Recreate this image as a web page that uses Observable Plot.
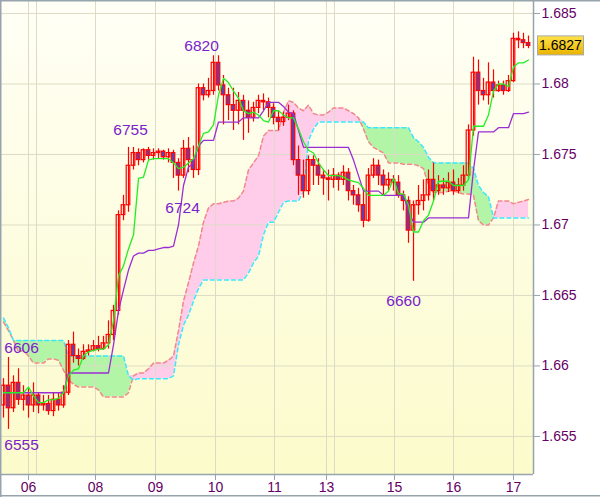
<!DOCTYPE html>
<html><head><meta charset="utf-8">
<script src="https://cdn.jsdelivr.net/npm/d3@7"></script>
<script src="https://cdn.jsdelivr.net/npm/@observablehq/plot@0.6"></script>
<style>body{margin:0;background:#fff;} svg{display:block}</style>
</head><body><div id="chart"></div>
<script>
// ---- data (hourly-ish bars, one entry per plotted candle) ----
const open = [1.6572,1.6586,1.6570,1.6588,1.6576,1.6579,1.6572,1.6579,1.6572,1.6573,
 1.6568,1.6576,1.6572,1.6581,1.6615,1.6607,1.6605,1.6610,1.6611,1.6614,
 1.6612,1.6616,1.6622,1.6639,1.6707,1.6714,1.6742,1.6751,1.6746,1.6753,
 1.6749,1.6751,1.6752,1.6748,1.6751,1.6744,1.6735,1.6754,1.6746,1.6739,
 1.6797,1.6792,1.6795,1.6815,1.6799,1.6792,1.6785,1.6781,1.6788,1.6781,
 1.6776,1.6783,1.6788,1.6787,1.6783,1.6776,1.6773,1.6776,1.6779,1.6746,
 1.6735,1.6724,1.6746,1.6742,1.6735,1.6733,1.6732,1.6735,1.6732,1.6737,
 1.6724,1.6721,1.6714,1.6703,1.6735,1.6742,1.6735,1.6728,1.6732,1.6730,
 1.6721,1.6717,1.6696,1.6714,1.6717,1.6721,1.6732,1.6724,1.6728,1.6726,
 1.6730,1.6724,1.6728,1.6735,1.6767,1.6808,1.6795,1.6792,1.6801,1.6795,
 1.6799,1.6795,1.6802,1.6832,1.6831,1.6829];
const close = [1.6586,1.6570,1.6588,1.6576,1.6579,1.6572,1.6579,1.6572,1.6573,1.6568,
 1.6576,1.6572,1.6581,1.6615,1.6607,1.6605,1.6610,1.6611,1.6614,1.6612,
 1.6616,1.6622,1.6639,1.6707,1.6714,1.6742,1.6751,1.6746,1.6753,1.6749,
 1.6751,1.6752,1.6748,1.6751,1.6744,1.6735,1.6754,1.6746,1.6739,1.6797,
 1.6792,1.6795,1.6815,1.6799,1.6792,1.6785,1.6781,1.6788,1.6781,1.6776,
 1.6783,1.6788,1.6787,1.6783,1.6776,1.6773,1.6776,1.6779,1.6746,1.6735,
 1.6724,1.6746,1.6742,1.6735,1.6733,1.6732,1.6735,1.6732,1.6737,1.6724,
 1.6721,1.6714,1.6703,1.6735,1.6742,1.6735,1.6728,1.6732,1.6730,1.6721,
 1.6717,1.6696,1.6714,1.6717,1.6721,1.6732,1.6724,1.6728,1.6726,1.6730,
 1.6724,1.6728,1.6735,1.6767,1.6808,1.6795,1.6792,1.6801,1.6795,1.6799,
 1.6795,1.6802,1.6832,1.6831,1.6829,1.6827];
const high = [1.6591,1.6606,1.6593,1.6598,1.6586,1.6584,1.6588,1.6581,1.6579,1.6579,
 1.6581,1.6581,1.6586,1.6618,1.6624,1.6612,1.6615,1.6615,1.6618,1.6621,
 1.6621,1.6632,1.6643,1.6710,1.6721,1.6755,1.6755,1.6754,1.6754,1.6755,
 1.6754,1.6754,1.6753,1.6754,1.6753,1.6747,1.6760,1.6762,1.6756,1.6800,
 1.6800,1.6804,1.6820,1.6820,1.6806,1.6797,1.6797,1.6794,1.6792,1.6788,
 1.6787,1.6792,1.6793,1.6790,1.6786,1.6781,1.6780,1.6785,1.6781,1.6756,
 1.6746,1.6749,1.6749,1.6747,1.6739,1.6739,1.6740,1.6737,1.6742,1.6740,
 1.6728,1.6726,1.6724,1.6740,1.6747,1.6746,1.6739,1.6737,1.6735,1.6735,
 1.6724,1.6720,1.6717,1.6728,1.6732,1.6739,1.6744,1.6735,1.6733,1.6737,
 1.6739,1.6733,1.6742,1.6771,1.6819,1.6817,1.6804,1.6815,1.6810,1.6802,
 1.6802,1.6806,1.6836,1.6837,1.6836,1.6834];
const low = [1.6563,1.6555,1.6567,1.6572,1.6568,1.6563,1.6567,1.6566,1.6568,1.6565,
 1.6564,1.6568,1.6570,1.6579,1.6602,1.6600,1.6604,1.6607,1.6610,1.6610,
 1.6611,1.6612,1.6618,1.6636,1.6703,1.6709,1.6739,1.6742,1.6744,1.6746,
 1.6746,1.6747,1.6746,1.6744,1.6733,1.6724,1.6733,1.6737,1.6733,1.6735,
 1.6788,1.6790,1.6792,1.6795,1.6771,1.6774,1.6767,1.6771,1.6760,1.6765,
 1.6773,1.6779,1.6781,1.6776,1.6771,1.6767,1.6770,1.6774,1.6742,1.6721,
 1.6719,1.6721,1.6728,1.6728,1.6721,1.6717,1.6726,1.6724,1.6728,1.6717,
 1.6714,1.6709,1.6698,1.6702,1.6733,1.6728,1.6721,1.6724,1.6724,1.6719,
 1.6710,1.6687,1.6660,1.6707,1.6710,1.6717,1.6717,1.6721,1.6721,1.6723,
 1.6721,1.6722,1.6724,1.6732,1.6763,1.6785,1.6788,1.6785,1.6790,1.6794,
 1.6792,1.6794,1.6801,1.6825,1.6825,1.6825];
// Tenkan-sen (green)
const tenkan = [1.6581,1.6581,1.6581,1.6581,1.6581,1.6585,1.6579,1.6574,1.6574,1.6576,
 1.6576,1.6577,1.6581,1.6593,1.6597,1.6598,1.6607,1.6610,1.6611,1.6612,
 1.6612,1.6615,1.6632,1.6664,1.6671,1.6683,1.6693,1.6733,1.6734,1.6746,
 1.6747,1.6747,1.6747,1.6747,1.6744,1.6740,1.6741,1.6744,1.6747,1.6756,
 1.6765,1.6766,1.6771,1.6792,1.6804,1.6801,1.6795,1.6790,1.6781,1.6779,
 1.6780,1.6778,1.6774,1.6773,1.6781,1.6781,1.6778,1.6776,1.6776,1.6768,
 1.6759,1.6753,1.6751,1.6744,1.6739,1.6735,1.6735,1.6735,1.6734,1.6732,
 1.6731,1.6730,1.6726,1.6721,1.6721,1.6721,1.6721,1.6724,1.6733,1.6722,
 1.6722,1.6714,1.6695,1.6695,1.6703,1.6707,1.6717,1.6731,1.6731,1.6731,
 1.6728,1.6728,1.6728,1.6732,1.6770,1.6770,1.6770,1.6778,1.6795,1.6800,
 1.6800,1.6798,1.6812,1.6815,1.6815,1.6817];
// Kijun-sen (purple)
const kijun = [1.6581,1.6581,1.6581,1.6581,1.6581,1.6581,1.6581,1.6581,1.6581,1.6581,
 1.6581,1.6581,1.6581,1.6595,1.6595,1.6595,1.6595,1.6595,1.6595,1.6595,
 1.6595,1.6595,1.6615,1.6639,1.6654,1.6668,1.6678,1.6680,1.6680,1.6682,
 1.6682,1.6683,1.6684,1.6684,1.6685,1.6700,1.6728,1.6741,1.6744,1.6756,
 1.6760,1.6760,1.6760,1.6773,1.6773,1.6773,1.6773,1.6773,1.6776,1.6776,
 1.6776,1.6776,1.6781,1.6787,1.6787,1.6787,1.6784,1.6780,1.6779,1.6767,
 1.6755,1.6755,1.6755,1.6755,1.6755,1.6755,1.6755,1.6755,1.6755,1.6755,
 1.6746,1.6735,1.6724,1.6724,1.6724,1.6724,1.6721,1.6721,1.6721,1.6721,
 1.6721,1.6710,1.6702,1.6702,1.6702,1.6705,1.6705,1.6705,1.6705,1.6705,
 1.6705,1.6705,1.6705,1.6705,1.6739,1.6766,1.6766,1.6766,1.6766,1.6769,
 1.6769,1.6769,1.6779,1.6779,1.6779,1.6780];
// Senkou span A (cyan dashed) and span B (salmon dashed)
const spanA = [1.6634,1.6627,1.6618,1.6618,1.6618,1.6618,1.6618,1.6618,1.6618,1.6618,
 1.6618,1.6618,1.6618,1.6607,1.6607,1.6607,1.6607,1.6607,1.6607,1.6607,
 1.6607,1.6607,1.6607,1.6607,1.6607,1.6593,1.6590,1.6591,1.6591,1.6591,
 1.6591,1.6591,1.6591,1.6591,1.6593,1.6615,1.6629,1.6636,1.6646,1.6655,
 1.6661,1.6661,1.6661,1.6661,1.6661,1.6661,1.6661,1.6661,1.6661,1.6666,
 1.6673,1.6678,1.6693,1.6702,1.6702,1.6709,1.6716,1.6717,1.6717,1.6717,
 1.6724,1.6760,1.6768,1.6773,1.6773,1.6773,1.6773,1.6773,1.6773,1.6773,
 1.6773,1.6773,1.6773,1.6769,1.6769,1.6769,1.6769,1.6769,1.6769,1.6769,
 1.6769,1.6769,1.6762,1.6759,1.6755,1.6748,1.6744,1.6744,1.6744,1.6744,
 1.6744,1.6744,1.6744,1.6744,1.6740,1.6728,1.6723,1.6720,1.6705,1.6705,
 1.6705,1.6705,1.6705,1.6705,1.6705,1.6705];
const spanB = [1.6631,1.6625,1.6618,1.6610,1.6611,1.6607,1.6602,1.6602,1.6602,1.6605,
 1.6605,1.6604,1.6597,1.6590,1.6587,1.6585,1.6585,1.6585,1.6585,1.6583,
 1.6578,1.6578,1.6578,1.6578,1.6578,1.6581,1.6593,1.6595,1.6595,1.6598,
 1.6602,1.6602,1.6602,1.6604,1.6607,1.6625,1.6646,1.6659,1.6673,1.6685,
 1.6702,1.6712,1.6715,1.6715,1.6716,1.6717,1.6717,1.6719,1.6724,1.6739,
 1.6744,1.6749,1.6763,1.6767,1.6767,1.6767,1.6780,1.6788,1.6787,1.6783,
 1.6781,1.6785,1.6779,1.6778,1.6778,1.6780,1.6783,1.6783,1.6783,1.6781,
 1.6779,1.6776,1.6768,1.6759,1.6755,1.6753,1.6751,1.6744,1.6744,1.6744,
 1.6743,1.6743,1.6743,1.6742,1.6740,1.6728,1.6723,1.6723,1.6723,1.6724,
 1.6724,1.6723,1.6722,1.6722,1.6721,1.6703,1.6700,1.6700,1.6705,1.6717,
 1.6717,1.6717,1.6715,1.6716,1.6717,1.6718];
// axis ticks (x in bar-index units)
const xTickPos = [5.0, 18.4, 30.4, 42.4, 54.2, 64.6, 78.2, 90.0, 102.0];
const xTickLabels = ["06", "08", "09", "10", "11", "13", "15", "16", "17"];
const xExtraGrid = [6.6, 66.2];
const yTicks = [1.655, 1.66, 1.665, 1.67, 1.675, 1.68, 1.685];
// zig-zag pivot labels
const annotLabels = ["6820", "6755", "6724", "6660", "6606", "6555"];
const annotX = [39.6, 25.4, 35.8, 80.0, 3.6, 3.6];
const annotY = [1.6827, 1.6767, 1.6712, 1.6646, 1.6613, 1.6544];

// ---- build ----
const bars = close.map((c, i) => ({i, o: open[i], c, h: high[i], l: low[i],
  ten: tenkan[i], kij: kijun[i], a: spanA[i], b: spanB[i]}));
const bull = bars.filter(d => d.c >= d.o);
const bear = bars.filter(d => d.c < d.o);
const annots = annotLabels.map((t, k) => ({t, x: annotX[k], y: annotY[k]}));
const fmtX = new Map(xTickPos.map((p, k) => [p, xTickLabels[k]]));
const hw = 0.36;
const gridC = "#dcdcc6", axisC = "#98a4ac", labC = "#660066";

const plot = Plot.plot({
  width: 600, height: 497,
  marginLeft: 1, marginRight: 67, marginTop: 1, marginBottom: 23,
  style: {background: "#ffffff", fontFamily: "'Liberation Sans', Arial, sans-serif", fontSize: "14px"},
  x: {domain: [-0.4, 106], axis: null},
  y: {domain: [1.6523, 1.68585], axis: null},
  marks: [
    Plot.frame({fill: "url(#bgGrad)", stroke: "none"}),
    Plot.areaY(bars, {x: "i", y1: "b", y2: d => Math.max(d.a, d.b), fill: "#b3f5a6"}),
    Plot.areaY(bars, {x: "i", y1: "a", y2: d => Math.max(d.a, d.b), fill: "#ffcdea"}),
    Plot.gridY(yTicks, {stroke: gridC, strokeOpacity: 1}),
    Plot.gridX([...xTickPos, ...xExtraGrid], {stroke: gridC, strokeOpacity: 1}),
    Plot.line(bars, {x: "i", y: "b", stroke: "#f08a8a", strokeWidth: 1.5, strokeDasharray: "4,3"}),
    Plot.line(bars, {x: "i", y: "a", stroke: "#3de6ff", strokeWidth: 1.5, strokeDasharray: "4,3"}),
    Plot.ruleX(bars, {x: "i", y1: "l", y2: "h", stroke: "#ff0000", strokeWidth: 1.2}),
    Plot.rect(bull, {x1: d => d.i - hw, x2: d => d.i + hw, y1: "o", y2: "c", stroke: "#ff0000", strokeWidth: 1.2, fill: "none"}),
    Plot.rect(bear, {x1: d => d.i - hw, x2: d => d.i + hw, y1: "o", y2: "c", stroke: "#ff0000", strokeWidth: 1.2, fill: "#6a3aa8"}),
    Plot.line(bars, {x: "i", y: "kij", stroke: "#9a2ed2", strokeWidth: 1.3}),
    Plot.line(bars, {x: "i", y: "ten", stroke: "#22ee22", strokeWidth: 1.3}),
    Plot.text(annots, {x: "x", y: "y", text: "t", fill: "#7a22cc", fontSize: 15.5}),
    Plot.ruleY([1.6523], {stroke: axisC, strokeWidth: 1.5}),
    Plot.ruleX([106], {stroke: axisC, strokeWidth: 1.5}),
    Plot.axisY(yTicks, {anchor: "right", tickSize: 6, tickPadding: 2, tickFormat: d => String(d),
      stroke: axisC, fill: labC, fontSize: 14}),
    Plot.axisX(xTickPos, {anchor: "bottom", tickSize: 6, tickPadding: 2, tickFormat: d => fmtX.get(d),
      stroke: axisC, fill: labC, fontSize: 14})
  ]
});

const svg = d3.select(plot);
const defs = svg.insert("defs", ":first-child");
const g1 = defs.append("linearGradient").attr("id", "bgGrad").attr("x1", 0).attr("y1", 0).attr("x2", 0).attr("y2", 1);
g1.append("stop").attr("offset", 0).attr("stop-color", "#fffff6");
g1.append("stop").attr("offset", 1).attr("stop-color", "#fcfbcb");
const g2 = defs.append("linearGradient").attr("id", "goldGrad").attr("x1", 0).attr("y1", 0).attr("x2", 0).attr("y2", 1);
g2.append("stop").attr("offset", 0).attr("stop-color", "#ffe34a");
g2.append("stop").attr("offset", 1).attr("stop-color", "#e9b200");

// last-price box on the right axis
const ys = plot.scale("y"), xs = plot.scale("x");
const lastClose = close[close.length - 1];
const yy = ys.apply(lastClose);
const xr = xs.range[1];
svg.append("rect").attr("x", xr + 4.5).attr("y", yy - 9.5).attr("width", 46).attr("height", 19)
  .attr("fill", "url(#goldGrad)").attr("stroke", "#a9a9a9");
svg.append("text").attr("x", xr + 27.5).attr("y", yy).attr("text-anchor", "middle")
  .attr("dominant-baseline", "central").attr("fill", "#000").attr("font-size", 14)
  .attr("font-family", "'Liberation Sans', Arial, sans-serif").text(lastClose.toFixed(4));

// outer border
const W = 600, H = 497;
svg.append("line").attr("x1", 0).attr("x2", W).attr("y1", 0.75).attr("y2", 0.75).attr("stroke", axisC).attr("stroke-width", 1.5);
svg.append("line").attr("x1", 0.75).attr("x2", 0.75).attr("y1", 0).attr("y2", H).attr("stroke", axisC).attr("stroke-width", 1.5);
svg.append("line").attr("x1", 0).attr("x2", W).attr("y1", H - 1.25).attr("y2", H - 1.25).attr("stroke", axisC).attr("stroke-width", 1.5);

document.getElementById("chart").appendChild(plot);
</script></body></html>
